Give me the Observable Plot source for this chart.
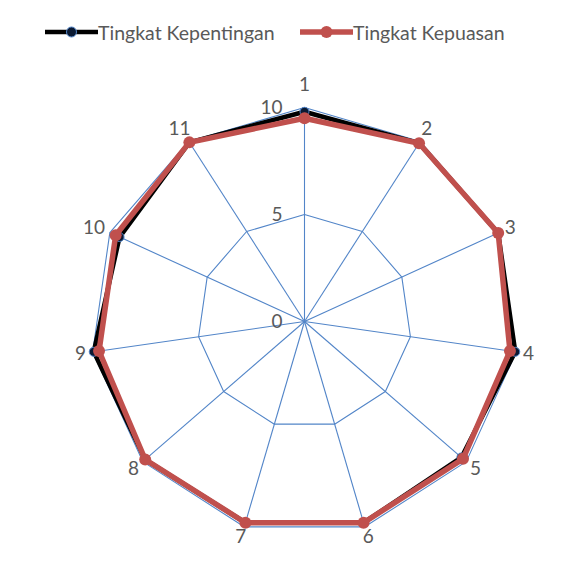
<!DOCTYPE html>
<html>
<head>
<meta charset="utf-8">
<script src="https://cdn.jsdelivr.net/npm/d3@7"></script>
<script src="https://cdn.jsdelivr.net/npm/@observablehq/plot@0.6"></script>
<style>
  body { margin: 0; background: #fff; font-family: Lato, "Open Sans", sans-serif; }
  #wrap { position: relative; width: 585px; height: 579px; overflow: hidden; }
  #legend { position: relative; height: 58px; width: 585px; }
  .lg { position: absolute; top: 19px; display: flex; align-items: center; height: 26px; color: #595959; font-size: 19.5px; }
  .lg svg { display: block; }
</style>
</head>
<body>
<div id="wrap">
  <div id="legend"></div>
  <div id="chart"></div>
</div>
<script>
// ---- data ----
const axisLabels = ["1", "2", "3", "4", "5", "6", "7", "8", "9", "10", "11"];
const seriesNames = ["Tingkat Kepentingan", "Tingkat Kepuasan"];
const kepentingan = [9.8, 9.9, 9.95, 9.95, 9.7, 9.8, 9.8, 9.85, 9.95, 9.5, 9.95];
const kepuasan    = [9.5, 9.9, 9.95, 9.7, 9.8, 9.8, 9.8, 9.85, 9.7, 9.7, 9.95];
const gridLevels = [5, 10];
const tickValues = [0, 5, 10];

// ---- styling ----
const gridColor = "#5285c8";
const redColor = "#c0504d";
const textColor = "#595959";
const font = "Lato, 'Open Sans', sans-serif";

const n = axisLabels.length;
const ang = i => 2 * Math.PI * i / n;
const pxPerUnit = 21.4;

// series rows
const seriesRows = [];
[kepentingan, kepuasan].forEach((vals, s) => {
  vals.forEach((v, i) => {
    seriesRows.push({series: seriesNames[s], axis: axisLabels[i], v,
      x: v * Math.sin(ang(i)), y: v * Math.cos(ang(i))});
  });
});
const blackRows = seriesRows.filter(d => d.series === seriesNames[0]);
const redRows = seriesRows.filter(d => d.series === seriesNames[1]);

// grid rings
const ringRows = [];
gridLevels.forEach(l => axisLabels.forEach((a, i) => {
  ringRows.push({level: l, x: l * Math.sin(ang(i)), y: l * Math.cos(ang(i))});
}));
const maxLevel = d3.max(gridLevels);
const spokes = axisLabels.map((a, i) => ({x: maxLevel * Math.sin(ang(i)), y: maxLevel * Math.cos(ang(i))}));

// axis category labels, offset outward by gap + half text size
const labelRows = axisLabels.map((a, i) => {
  const s = Math.sin(ang(i)), c = Math.cos(ang(i));
  const hw = a.length * 5.2;
  const hh = 7;
  const ox = s * (7 + hw);
  const oy = c * (4 + hh) + 12 * Math.pow(Math.max(0, c), 8);
  return {text: a, x: maxLevel * s + ox / pxPerUnit, y: maxLevel * c + oy / pxPerUnit};
});

const cx = 304, cy = 263, R = 214;
const chart = Plot.plot({
  width: 585,
  height: 521,
  margin: 0,
  x: {domain: [-maxLevel, maxLevel], range: [cx - R, cx + R], axis: null},
  y: {domain: [-maxLevel, maxLevel], range: [cy + R, cy - R], axis: null},
  marks: [
    Plot.link(spokes, {x1: 0, y1: 0, x2: "x", y2: "y", stroke: gridColor, strokeWidth: 1.1}),
    Plot.line(ringRows, {x: "x", y: "y", z: "level", curve: "linear-closed", stroke: gridColor, strokeWidth: 1.1}),
    Plot.line(blackRows, {x: "x", y: "y", curve: "linear-closed", stroke: "#000", strokeWidth: 4.5}),
    Plot.dot(blackRows, {x: "x", y: "y", r: 4.5, fill: "#0b1a33", stroke: gridColor, strokeWidth: 1}),
    Plot.line(redRows, {x: "x", y: "y", curve: "linear-closed", stroke: redColor, strokeWidth: 5.5}),
    Plot.dot(redRows, {x: "x", y: "y", r: 6, fill: redColor}),
    Plot.text(tickValues, {x: 0, y: d => d, text: d => String(d), textAnchor: "end", dx: -22, fill: textColor, fontSize: 19, fontFamily: font}),
    Plot.text(labelRows, {x: "x", y: "y", text: "text", fill: textColor, fontSize: 19, fontFamily: font})
  ]
});
document.getElementById("chart").appendChild(chart);

// legend
const legend = d3.select("#legend");
const legendItems = [
  {name: seriesNames[0], stroke: "#000", fill: "#0b1a33", mstroke: gridColor, left: 45, w: 4.5, r: 5},
  {name: seriesNames[1], stroke: redColor, fill: redColor, mstroke: "none", left: 300, w: 5.5, r: 6}
];
legendItems.forEach(it => {
  const item = legend.append("div").attr("class", "lg").style("left", it.left + "px");
  const svg = item.append("svg").attr("width", 53).attr("height", 26);
  svg.append("line").attr("x1", 0).attr("x2", 53).attr("y1", 13).attr("y2", 13)
    .attr("stroke", it.stroke).attr("stroke-width", it.w);
  svg.append("circle").attr("cx", 26.5).attr("cy", 13).attr("r", it.r)
    .attr("fill", it.fill).attr("stroke", it.mstroke);
  item.append("span").text(it.name);
});
</script>
</body>
</html>
